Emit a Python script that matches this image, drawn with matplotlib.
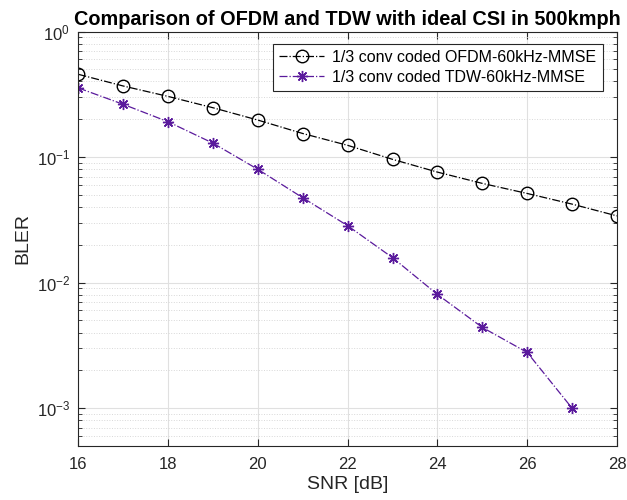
import matplotlib
matplotlib.use("Agg")
import matplotlib.pyplot as plt
from matplotlib.ticker import LogLocator, NullFormatter

plt.rcParams['font.family'] = ['Liberation Sans', 'DejaVu Sans']

snr_db = [16, 17, 18, 19, 20, 21, 22, 23, 24, 25, 26, 27, 28]
bler_ofdm = [0.456, 0.368, 0.304, 0.247, 0.197, 0.154, 0.124, 0.0959,
             0.0759, 0.0617, 0.0513, 0.0422, 0.034]
snr_tdw = [16, 17, 18, 19, 20, 21, 22, 23, 24, 25, 26, 27]
bler_tdw = [0.355, 0.263, 0.191, 0.129, 0.0798, 0.0474, 0.0284, 0.0158,
            0.00805, 0.0044, 0.00278, 0.001]

fig = plt.figure(figsize=(6.27, 5.0), dpi=100)
ax = fig.add_axes([0.125, 0.108, 0.859, 0.829])

ax.semilogy(snr_db, bler_ofdm, "-.o", color="black", linewidth=0.9,
            markersize=9, markerfacecolor="none", markeredgewidth=1.0,
            label="1/3 conv coded OFDM-60kHz-MMSE")
ax.semilogy(snr_tdw, bler_tdw, "-.", marker=(8, 2, 0), color="#5a1a9c",
            linewidth=0.9, markersize=8, markeredgewidth=1.0,
            label="1/3 conv coded TDW-60kHz-MMSE")

ax.set_xlim(16, 28)
ax.set_ylim(5e-4, 1)
ax.set_xticks(range(16, 29, 2))
ax.yaxis.set_minor_locator(LogLocator(base=10, subs=range(2, 10), numticks=20))
ax.yaxis.set_minor_formatter(NullFormatter())

ax.grid(True, which="major", color="#e0e0e0", linewidth=0.8)
ax.grid(True, which="minor", axis="y", color="#d8d8d8", linestyle=":", linewidth=0.7)
ax.set_axisbelow(True)

ax.tick_params(which="both", direction="in", top=True, right=True,
               labelsize=12, colors="#262626")
ax.tick_params(axis="x", pad=8)
ax.tick_params(axis="y", pad=6)
ax.tick_params(which="major", length=5)
ax.tick_params(which="minor", length=3)
for s in ax.spines.values():
    s.set_color("#262626")
    s.set_linewidth(0.8)

ax.set_xlabel("SNR [dB]", fontsize=14, color="#262626", labelpad=3)
ax.set_ylabel("BLER", fontsize=14, color="#262626", labelpad=4)
ax.set_title("Comparison of OFDM and TDW with ideal CSI in 500kmph",
             fontsize=14.3, fontweight="bold", pad=5)

leg = ax.legend(loc="upper right", bbox_to_anchor=(0.988, 0.99), fontsize=11.5,
                fancybox=False, framealpha=1, edgecolor="#262626",
                borderpad=0.4, handlelength=2.8, labelspacing=0.3,
                handletextpad=0.5)
leg.get_frame().set_linewidth(0.8)

fig.savefig("out.png", dpi=100)
